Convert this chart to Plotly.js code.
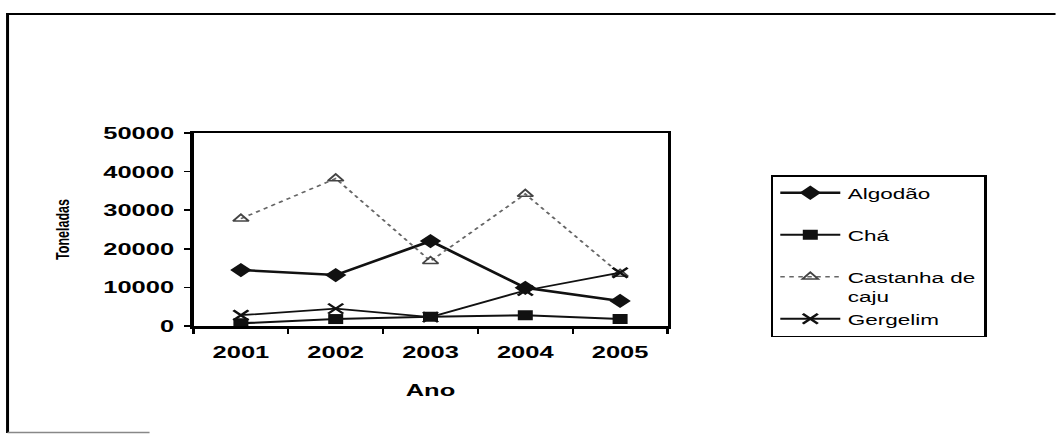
<!DOCTYPE html>
<html>
<head>
<meta charset="utf-8">
<script src="https://cdn.plot.ly/plotly-3.0.1.min.js"></script>
<style>
  html, body { margin: 0; padding: 0; background: #ffffff; }
  #wrap { width: 1056px; height: 434px; overflow: hidden; position: relative; background: #fff; }
  #plot { width: 704px; height: 434px; transform: scaleX(1.5); transform-origin: 0 0; }
</style>
</head>
<body>
<div id="wrap"><div id="plot"></div></div>
<script>
// ---- data ----
const anos = ['2001', '2002', '2003', '2004', '2005'];
const algodao = [14500, 13200, 22000, 9900, 6500];
const cha = [700, 1800, 2400, 2800, 1800];
const castanha = [27800, 38200, 16800, 34200, 13500];
const gergelim = [2800, 4500, 2300, 9200, 13800];
const nomes = ['Algodão', 'Chá', 'Castanha de<br>caju', 'Gergelim'];
const yTicks = [0, 10000, 20000, 30000, 40000, 50000];

const FONT = 'Liberation Sans, Arial, sans-serif';
const NB = '<br>\u00a0';

const traces = [
  { x: anos, y: algodao, name: nomes[0] + NB, type: 'scatter', mode: 'lines+markers',
    line: { color: '#111', width: 2.5 },
    marker: { symbol: 'diamond', size: 11, color: '#111' } },
  { x: anos, y: cha, name: nomes[1] + NB, type: 'scatter', mode: 'lines+markers',
    line: { color: '#111', width: 2 },
    marker: { symbol: 'square', size: 10, color: '#111' } },
  { x: anos, y: castanha, name: nomes[2], type: 'scatter', mode: 'lines+markers',
    line: { color: '#666', width: 1.5, dash: 'dot' },
    marker: { symbol: 'triangle-up-open', size: 9, color: '#444', line: { width: 1.5, color: '#444' } } },
  { x: anos, y: gergelim, name: nomes[3], type: 'scatter', mode: 'lines+markers',
    line: { color: '#111', width: 1.8 },
    marker: { symbol: 'x-thin-open', size: 10, color: '#111', line: { width: 2, color: '#111' } } }
];

const W = 704, H = 434;
const L = 129.3, R = 445.3, T = 133, B = 326;
const px = X => (X / 1.5 - L) / (R - L);   // reference x pixel -> paper
const py = Y => (B - Y) / (B - T);         // reference y pixel -> paper

const layout = {
  width: W, height: H,
  margin: { l: L, r: W - R, t: T, b: H - B },
  paper_bgcolor: '#fff', plot_bgcolor: '#fff',
  showlegend: true,
  font: { family: FONT, color: '#000' },
  xaxis: {
    type: 'category', range: [-0.5, 4.5], tickson: 'boundaries',
    ticks: 'outside', ticklen: 5, tickwidth: 1.5, tickcolor: '#000',
    showline: true, linewidth: 2.5, linecolor: '#000', mirror: true,
    showgrid: false, zeroline: false, automargin: false,
    tickfont: { family: FONT, size: 17, weight: 'bold', color: '#000' },
    ticklabelstandoff: 9,
    title: { text: 'Ano', font: { family: FONT, size: 17, weight: 'bold', color: '#000' }, standoff: 23 }
  },
  yaxis: {
    range: [0, 50000], tickvals: yTicks, tickformat: 'd',
    ticks: 'outside', ticklen: 4, tickwidth: 1.5, tickcolor: '#000',
    showline: true, linewidth: 2.5, linecolor: '#000', mirror: true,
    showgrid: false, zeroline: false, automargin: false,
    tickfont: { family: FONT, size: 17, weight: 'bold', color: '#000' },
    ticklabelstandoff: 3,
    title: { text: 'Toneladas', font: { family: FONT, size: 12.5, weight: 'bold', color: '#000' }, standoff: 20 }
  },
  legend: {
    x: px(771), y: py(175), xanchor: 'left', yanchor: 'top',
    bgcolor: '#fff', bordercolor: '#000', borderwidth: 1.5,
    font: { family: FONT, size: 15, color: '#000' },
    valign: 'top', itemwidth: 40, traceorder: 'normal'
  },
  shapes: [
    { type: 'line', xref: 'paper', yref: 'paper', x0: px(8), x1: px(8), y0: py(13), y1: py(433),
      line: { color: '#000', width: 2 } },
    { type: 'line', xref: 'paper', yref: 'paper', x0: px(7), x1: px(1056), y0: py(14), y1: py(14),
      line: { color: '#000', width: 2 } },
    { type: 'line', xref: 'paper', yref: 'paper', x0: px(8), x1: px(150), y0: py(432.5), y1: py(432.5),
      line: { color: '#888', width: 1.5 } }
  ]
};

Plotly.newPlot('plot', traces, layout, { staticPlot: true, displayModeBar: false });
</script>
</body>
</html>
